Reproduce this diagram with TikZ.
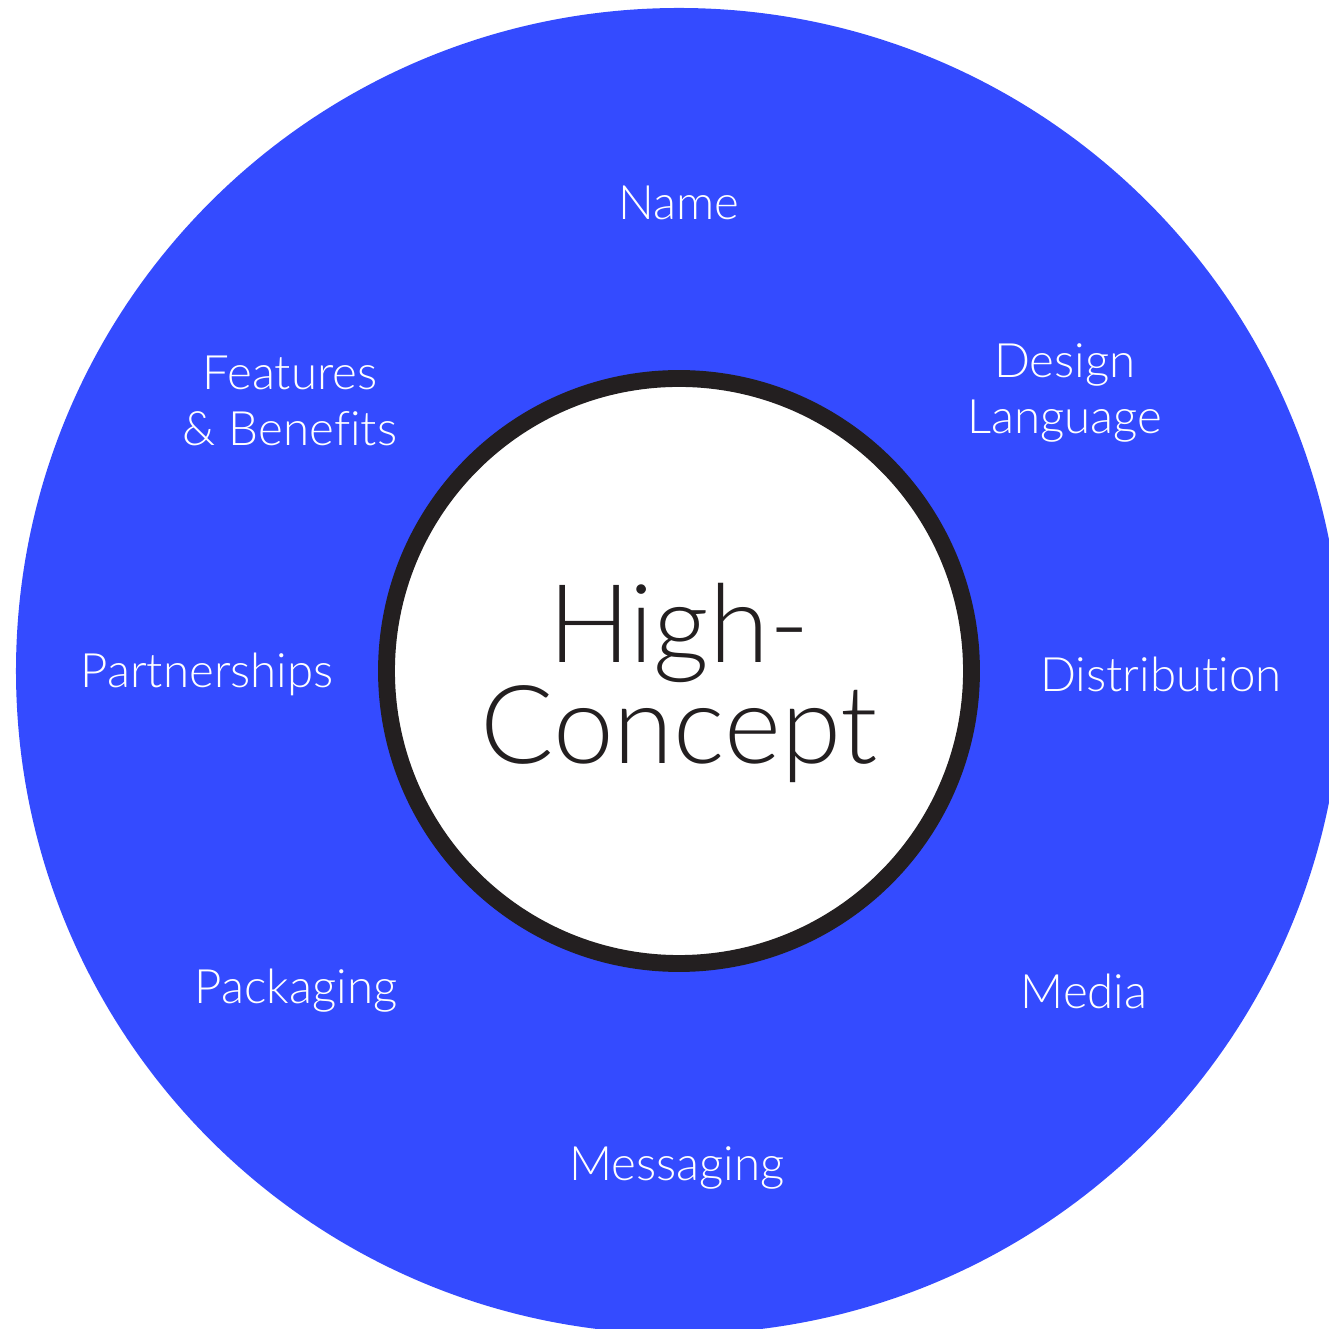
\documentclass[tikz,border=0pt]{standalone}
\usepackage{fontspec}
\setmainfont{Lato Light}[Ligatures=NoCommon]
\usepackage{xcolor}
\definecolor{ringblue}{HTML}{344BFF}
\definecolor{ringdark}{HTML}{231F20}
\usepackage{tikz}

\tikzset{
	label/.style={text=white,align=center,font=\fontsize{13.5}{16}\selectfont},
	core/.style={circle,draw=ringdark,line width=4.8pt,fill=white,minimum size=5.85cm,inner sep=0pt}
}

\begin{document}
\begin{tikzpicture}
	\useasboundingbox (-6.79,-6.58) rectangle (6.50,6.71);
	\fill[ringblue] (0,0) circle (6.63);
	% nodes
	\node[core] (HC) at (0,0) {};
	\node[align=center,text=ringdark,font=\fontsize{31}{27.3}\selectfont] (T) at (0,-0.12) {High-\\Concept};
	\node[label] (N) at (0,4.68) {Name};
	\node[label] (FB) at (-3.89,2.70) {Features\\\& Benefits};
	\node[label] (DL) at (3.86,2.78) {Design\\Language};
	\node[label] (P) at (-4.72,-0.03) {Partnerships};
	\node[label] (D) at (4.82,-0.03) {Distribution};
	\node[label] (PK) at (-3.83,-3.20) {Packaging};
	\node[label] (M) at (4.05,-3.20) {Media};
	\node[label] (MS) at (-0.02,-4.97) {Messaging};
\end{tikzpicture}
\end{document}
